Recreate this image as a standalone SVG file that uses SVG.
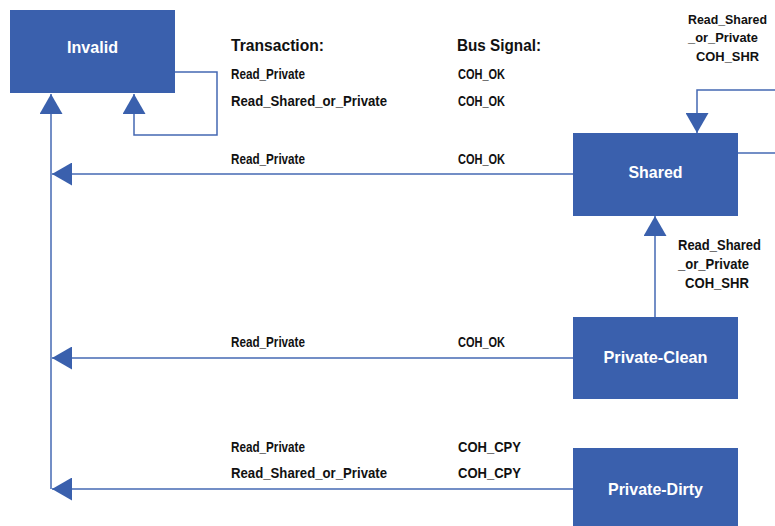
<svg xmlns="http://www.w3.org/2000/svg" width="775" height="526" viewBox="0 0 775 526">
<style>
.node rect{fill:#3A60AD;}
.node text{fill:#ffffff;font-family:"Liberation Sans",Arial,sans-serif;font-weight:bold;font-size:17px;text-anchor:middle;}
.conn{fill:none;stroke:#4468B3;stroke-width:1.5;}
.lbl{fill:#111111;font-family:"Liberation Sans",Arial,sans-serif;font-weight:bold;font-size:14.5px;}
.lbl.edge{font-size:13.5px;}
.hdr{fill:#111111;font-family:"Liberation Sans",Arial,sans-serif;font-weight:bold;font-size:16.5px;}
</style>
<defs>
<marker id="ah" markerUnits="userSpaceOnUse" markerWidth="20" markerHeight="23" viewBox="0 0 20 23" refX="20" refY="11.5" orient="auto">
<path d="M0,0 L20,11.5 L0,23 Z" fill="#3A60AD"/>
</marker>
</defs>
<rect width="775" height="526" fill="#ffffff"/>
<g id="connectors">
<path class="conn" d="M175,72 H217 V135 H134 V94" marker-end="url(#ah)"/>
<path class="conn" d="M51,489 V94" marker-end="url(#ah)"/>
<path class="conn" d="M573,174 H52" marker-end="url(#ah)"/>
<path class="conn" d="M573,358 H52" marker-end="url(#ah)"/>
<path class="conn" d="M573,489 H52" marker-end="url(#ah)"/>
<path class="conn" d="M655,317 V216" marker-end="url(#ah)"/>
<path class="conn" d="M775,90 H697 V133" marker-end="url(#ah)"/>
<path class="conn" d="M738,153 H775"/>
</g>
<g id="invalid" class="node">
<rect x="10" y="10" width="165" height="83"/>
<text x="92.5" y="53" textLength="51" lengthAdjust="spacingAndGlyphs">Invalid</text>
</g>
<g id="shared" class="node">
<rect x="573" y="133" width="165" height="83"/>
<text x="655.5" y="178" textLength="54" lengthAdjust="spacingAndGlyphs">Shared</text>
</g>
<g id="private-clean" class="node">
<rect x="573" y="317" width="165" height="82"/>
<text x="655.5" y="363" textLength="104" lengthAdjust="spacingAndGlyphs">Private-Clean</text>
</g>
<g id="private-dirty" class="node">
<rect x="573" y="448" width="165" height="78"/>
<text x="655.5" y="495" textLength="95" lengthAdjust="spacingAndGlyphs">Private-Dirty</text>
</g>
<g id="labels">
<text class="hdr" x="231" y="51" textLength="93" lengthAdjust="spacingAndGlyphs">Transaction:</text>
<text class="hdr" x="457" y="51" textLength="84" lengthAdjust="spacingAndGlyphs">Bus Signal:</text>
<text class="lbl" x="231" y="79" textLength="74" lengthAdjust="spacingAndGlyphs">Read_Private</text>
<text class="lbl" x="458" y="79" textLength="47" lengthAdjust="spacingAndGlyphs">COH_OK</text>
<text class="lbl" x="231" y="106" textLength="156" lengthAdjust="spacingAndGlyphs">Read_Shared_or_Private</text>
<text class="lbl" x="458" y="106" textLength="47" lengthAdjust="spacingAndGlyphs">COH_OK</text>
<text class="lbl" x="231" y="164" textLength="74" lengthAdjust="spacingAndGlyphs">Read_Private</text>
<text class="lbl" x="458" y="164" textLength="47" lengthAdjust="spacingAndGlyphs">COH_OK</text>
<text class="lbl" x="231" y="347" textLength="74" lengthAdjust="spacingAndGlyphs">Read_Private</text>
<text class="lbl" x="458" y="347" textLength="47" lengthAdjust="spacingAndGlyphs">COH_OK</text>
<text class="lbl" x="231" y="452" textLength="74" lengthAdjust="spacingAndGlyphs">Read_Private</text>
<text class="lbl" x="458" y="452" textLength="63" lengthAdjust="spacingAndGlyphs">COH_CPY</text>
<text class="lbl" x="231" y="478" textLength="156" lengthAdjust="spacingAndGlyphs">Read_Shared_or_Private</text>
<text class="lbl" x="458" y="478" textLength="63" lengthAdjust="spacingAndGlyphs">COH_CPY</text>
<text class="lbl edge" x="688" y="24" textLength="79" lengthAdjust="spacingAndGlyphs">Read_Shared</text>
<text class="lbl edge" x="688" y="42" textLength="70" lengthAdjust="spacingAndGlyphs">_or_Private</text>
<text class="lbl edge" x="696" y="61" textLength="63" lengthAdjust="spacingAndGlyphs">COH_SHR</text>
<text class="lbl" x="678" y="250" textLength="83" lengthAdjust="spacingAndGlyphs">Read_Shared</text>
<text class="lbl" x="678" y="269" textLength="71" lengthAdjust="spacingAndGlyphs">_or_Private</text>
<text class="lbl" x="685" y="288" textLength="64" lengthAdjust="spacingAndGlyphs">COH_SHR</text>
</g>
</svg>
